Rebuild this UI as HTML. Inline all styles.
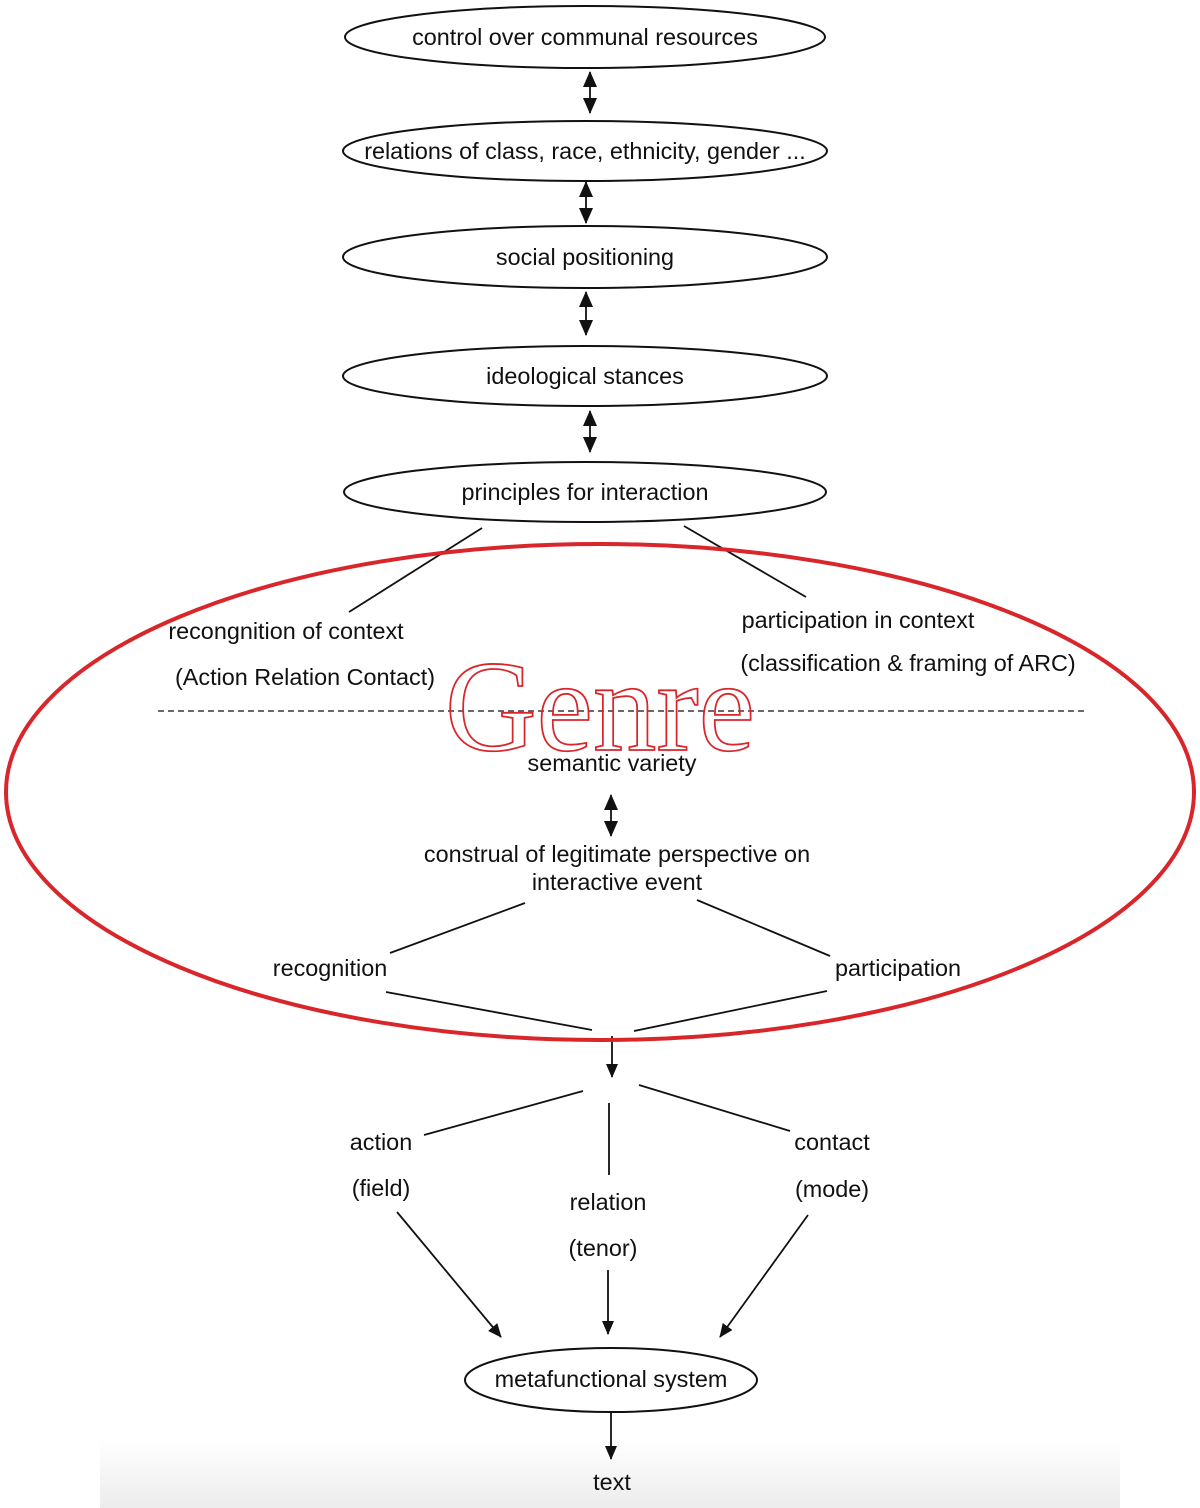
<!DOCTYPE html>
<html><head><meta charset="utf-8"><style>
html,body{margin:0;padding:0;background:#fff;}
svg{display:block;}
text{font-family:"Liberation Sans",sans-serif;font-size:23.4px;fill:#111;}
</style></head><body>
<svg width="1200" height="1508" viewBox="0 0 1200 1508" xmlns="http://www.w3.org/2000/svg">
<defs>
<linearGradient id="g" x1="0" y1="0" x2="0" y2="1">
<stop offset="0" stop-color="#fff"/><stop offset="1" stop-color="#ececec"/>
</linearGradient>
<marker id="a" markerWidth="14" markerHeight="12" refX="13" refY="6" orient="auto-start-reverse" markerUnits="userSpaceOnUse" viewBox="0 0 14 12">
<path d="M0,0 L14,6 L0,12 Z" fill="#111"/></marker>
<marker id="d" markerWidth="16" markerHeight="14" refX="15" refY="7" orient="auto-start-reverse" markerUnits="userSpaceOnUse" viewBox="0 0 16 14">
<path d="M0,0 L16,7 L0,14 Z" fill="#111"/></marker>
</defs>
<rect x="100" y="1440" width="1020" height="68" fill="url(#g)"/>
<g fill="none" stroke="#111" stroke-width="2">
<ellipse cx="585" cy="37" rx="240" ry="31"/>
<ellipse cx="585" cy="151" rx="242" ry="30"/>
<ellipse cx="585" cy="257" rx="242" ry="31"/>
<ellipse cx="585" cy="376" rx="242" ry="30"/>
<ellipse cx="585" cy="492" rx="241" ry="30"/>
<ellipse cx="611" cy="1380" rx="146" ry="32"/>
</g>
<g stroke="#111" stroke-width="1.8" fill="none">
<line x1="590" y1="72" x2="590" y2="113" marker-start="url(#d)" marker-end="url(#d)"/>
<line x1="586" y1="182" x2="586" y2="223" marker-start="url(#d)" marker-end="url(#d)"/>
<line x1="586" y1="292" x2="586" y2="335" marker-start="url(#d)" marker-end="url(#d)"/>
<line x1="590" y1="411" x2="590" y2="452" marker-start="url(#d)" marker-end="url(#d)"/>
<line x1="611" y1="795" x2="611" y2="836" marker-start="url(#d)" marker-end="url(#d)"/>
<line x1="482" y1="528" x2="349" y2="612"/>
<line x1="684" y1="526" x2="806" y2="597"/>
<line x1="158" y1="711" x2="1085" y2="711" stroke-dasharray="6,4" stroke-width="1.2"/>
<line x1="525" y1="903" x2="390" y2="953"/>
<line x1="697" y1="900" x2="830" y2="956"/>
<line x1="386" y1="992" x2="592" y2="1030"/>
<line x1="827" y1="991" x2="634" y2="1031"/>
<line x1="612" y1="1036" x2="612" y2="1077" marker-end="url(#a)"/>
<line x1="583" y1="1091" x2="424" y2="1135"/>
<line x1="609" y1="1103" x2="609" y2="1175"/>
<line x1="639" y1="1085" x2="790" y2="1131"/>
<line x1="397" y1="1212" x2="501" y2="1337" marker-end="url(#a)"/>
<line x1="608" y1="1270" x2="608" y2="1334" marker-end="url(#a)"/>
<line x1="808" y1="1215" x2="720" y2="1337" marker-end="url(#a)"/>
<line x1="611" y1="1412" x2="611" y2="1459" marker-end="url(#a)"/>
</g>
<ellipse cx="600" cy="792" rx="594" ry="248" fill="none" stroke="#d8262b" stroke-width="4"/>
<text x="600" y="750" text-anchor="middle" textLength="310" lengthAdjust="spacingAndGlyphs" style="font-family:'Liberation Serif',serif;font-size:130px;fill:none;stroke:#d8262b;stroke-width:1.8">Genre</text>
<g text-anchor="middle">
<text x="585" y="45">control over communal resources</text>
<text x="585" y="159">relations of class, race, ethnicity, gender ...</text>
<text x="585" y="265">social positioning</text>
<text x="585" y="384">ideological stances</text>
<text x="585" y="500">principles for interaction</text>
<text x="286" y="639">recongnition of context</text>
<text x="305" y="685">(Action Relation Contact)</text>
<text x="858" y="628">participation in context</text>
<text x="908" y="671">(classification &amp; framing of ARC)</text>
<text x="612" y="771">semantic variety</text>
<text x="617" y="862">construal of legitimate perspective on</text>
<text x="617" y="890">interactive event</text>
<text x="330" y="976">recognition</text>
<text x="898" y="976">participation</text>
<text x="381" y="1150">action</text>
<text x="381" y="1196">(field)</text>
<text x="608" y="1210">relation</text>
<text x="603" y="1256">(tenor)</text>
<text x="832" y="1150">contact</text>
<text x="832" y="1197">(mode)</text>
<text x="611" y="1387">metafunctional system</text>
<text x="612" y="1490">text</text>
</g>
</svg>
</body></html>
